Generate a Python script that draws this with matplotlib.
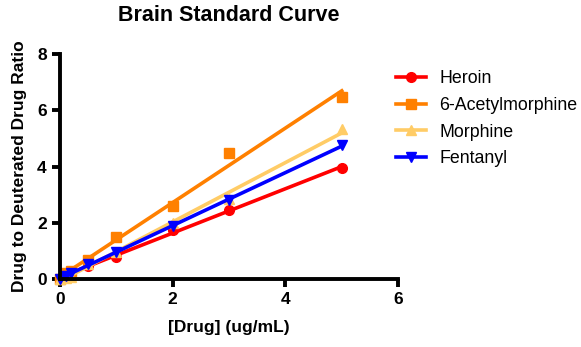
import numpy as np
import matplotlib.pyplot as plt

plt.rcParams['font.family'] = ['Liberation Sans', 'DejaVu Sans']

# concentrations (ug/mL)
conc = [0, 0.1, 0.2, 0.5, 1, 2, 3, 5]

# drug / deuterated drug ratios
heroin = [0.0, 0.15, 0.25, 0.45, 0.78, 1.75, 2.45, 3.95]
acetylmorphine = [0.0, 0.2, 0.3, 0.68, 1.48, 2.58, 4.48, 6.48]
morphine = [0.0, 0.05, 0.08, 0.55, 0.95, 2.0, 2.85, 5.35]
fentanyl = [0.0, 0.1, 0.2, 0.55, 0.95, 1.9, 2.8, 4.75]

names = ['Heroin', '6-Acetylmorphine', 'Morphine', 'Fentanyl']
colors = ['#ff0000', '#ff8000', '#ffcc66', '#0000ff']
markers = ['o', 's', '^', 'v']

fig = plt.figure(figsize=(5.81, 3.47), dpi=100)
ax = fig.add_axes([0.1033, 0.196, 0.582, 0.648])

for data, name, c, m in zip([heroin, acetylmorphine, morphine, fentanyl], names, colors, markers):
    slope, icpt = np.polyfit(conc, data, 1)
    xs = np.array([0, 5])
    ax.plot(conc, data, linestyle='none', marker=m, color=c, markersize=7, clip_on=False)
    ax.plot(xs, slope * xs + icpt, color=c, lw=2.6, clip_on=False)
    ax.plot([], [], color=c, marker=m, lw=2.6, markersize=7, label=name)

ax.set_xlim(0, 6)
ax.set_ylim(0, 8)
ax.set_xticks([0, 2, 4, 6])
ax.set_yticks([0, 2, 4, 6, 8])
for s in ['top', 'right']:
    ax.spines[s].set_visible(False)
for s in ['left', 'bottom']:
    ax.spines[s].set_linewidth(2.8)
ax.tick_params(width=2.8, length=6, labelsize=12.5)
for lab in ax.get_xticklabels() + ax.get_yticklabels():
    lab.set_fontweight('bold')

ax.set_title('Brain Standard Curve', fontsize=15.5, fontweight='bold', pad=24)
ax.set_xlabel('[Drug] (ug/mL)', fontsize=12.5, fontweight='bold', labelpad=9)
ax.set_ylabel('Drug to Deuterated Drug Ratio', fontsize=12.5, fontweight='bold', labelpad=7)

ax.legend(loc='upper left', bbox_to_anchor=(0.945, 1.0), frameon=False, fontsize=12.8,
          handlelength=1.7, handletextpad=0.75, labelspacing=0.55)

fig.savefig('out.png', dpi=100)
